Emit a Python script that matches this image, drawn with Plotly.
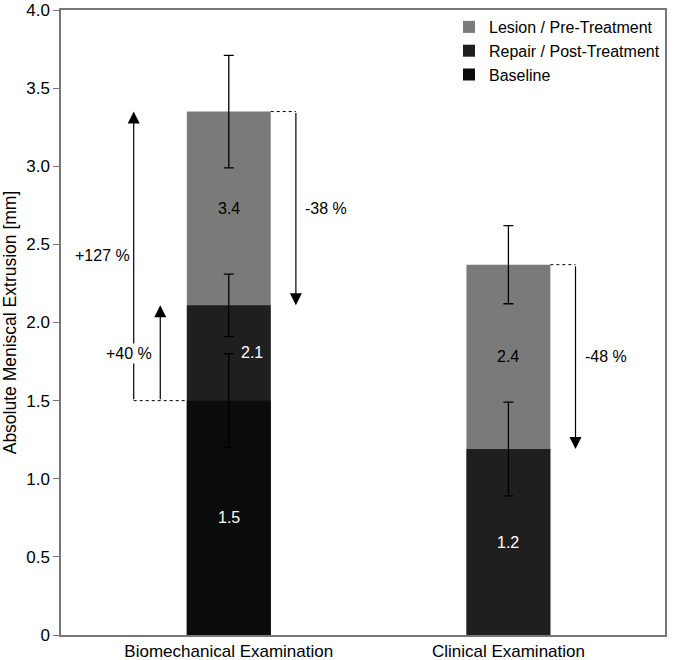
import plotly.graph_objects as go

categories = ["Biomechanical Examination", "Clinical Examination"]
lesion = [3.35, 2.37]
lesion_err = [0.36, 0.25]
repair = [2.11, 1.19]
repair_err = [0.20, 0.30]
baseline = [1.50]
baseline_err = [0.30]
lesion_labels = ["3.4", "2.4"]
repair_labels = ["2.1", "1.2"]
baseline_labels = ["1.5"]
y_ticks = [0, 0.5, 1.0, 1.5, 2.0, 2.5, 3.0, 3.5, 4.0]
y_tick_text = ["0", "0.5", "1.0", "1.5", "2.0", "2.5", "3.0", "3.5", "4.0"]
pct_up = ["+127 %", "+40 %"]
pct_down = ["-38 %", "-48 %"]

xpos = list(range(len(categories)))
W = 0.3
FONT = "Liberation Sans, Arial, sans-serif"
AF = 16
eb = dict(type="data", thickness=1.3, width=5, color="black")

fig = go.Figure()
fig.add_trace(go.Bar(x=xpos, y=lesion, width=W, name="Lesion / Pre-Treatment",
                     marker=dict(color="#7a7a7a", line=dict(width=0)),
                     error_y=dict(array=lesion_err, **eb)))
fig.add_trace(go.Bar(x=xpos, y=repair, width=W, name="Repair / Post-Treatment",
                     marker=dict(color="#1f1f1f", line=dict(width=0)),
                     error_y=dict(array=repair_err, **eb)))
fig.add_trace(go.Bar(x=xpos[:1], y=baseline, width=W, name="Baseline",
                     marker=dict(color="#0b0b0b", line=dict(width=0)),
                     error_y=dict(array=baseline_err, **eb)))

ann = []
for i in range(len(categories)):
    ann.append(dict(x=xpos[i], y=(lesion[i] + repair[i]) / 2, text=lesion_labels[i],
                    showarrow=False, font=dict(color="black", size=AF, family=FONT)))
ann.append(dict(x=xpos[0], y=(repair[0] + baseline[0]) / 2, text=repair_labels[0], xshift=23,
                showarrow=False, font=dict(color="white", size=AF, family=FONT)))
ann.append(dict(x=xpos[1], y=repair[1] / 2, text=repair_labels[1],
                showarrow=False, font=dict(color="white", size=AF, family=FONT)))
ann.append(dict(x=xpos[0], y=baseline[0] / 2, text=baseline_labels[0],
                showarrow=False, font=dict(color="white", size=AF, family=FONT)))

shapes = []
x127 = xpos[0] - 0.34
x40 = xpos[0] - 0.245
shapes.append(dict(type="line", xref="x", yref="y", x0=x127, x1=xpos[0] - W / 2,
                   y0=baseline[0], y1=baseline[0], line=dict(color="black", width=1, dash="dot")))
for xa, top in [(x127, lesion[0]), (x40, repair[0])]:
    ann.append(dict(x=xa, y=top, ax=xa, ay=baseline[0], xref="x", yref="y", axref="x", ayref="y",
                    showarrow=True, arrowhead=2, arrowsize=2, arrowwidth=1.2, arrowcolor="black",
                    text="", standoff=0))
ann.append(dict(x=x127, y=2.43, text=pct_up[0], showarrow=False, xshift=-31,
                font=dict(color="black", size=AF, family=FONT)))
ann.append(dict(x=x127, y=1.8, text=pct_up[1], showarrow=False, xshift=-5, bgcolor="white",
                font=dict(color="black", size=AF, family=FONT)))

for i in range(len(categories)):
    xd = xpos[i] + W / 2 + 0.09
    shapes.append(dict(type="line", xref="x", yref="y", x0=xpos[i] + W / 2, x1=xd,
                       y0=lesion[i], y1=lesion[i], line=dict(color="black", width=1, dash="dot")))
    ann.append(dict(x=xd, y=repair[i], ax=xd, ay=lesion[i], xref="x", yref="y", axref="x", ayref="y",
                    showarrow=True, arrowhead=2, arrowsize=2, arrowwidth=1.2, arrowcolor="black",
                    text="", standoff=0))
    ann.append(dict(x=xd, y=(lesion[i] + repair[i]) / 2, text=pct_down[i], showarrow=False, xshift=30,
                    font=dict(color="black", size=AF, family=FONT)))

fig.update_layout(
    width=675, height=660,
    margin=dict(l=61, r=10, t=10, b=25, autoexpand=False),
    barmode="overlay",
    plot_bgcolor="white", paper_bgcolor="white",
    font=dict(family=FONT, size=17, color="black"),
    showlegend=True,
    legend=dict(x=1, y=1, xanchor="right", yanchor="top", bgcolor="rgba(0,0,0,0)",
                font=dict(size=16, family=FONT), tracegroupgap=0, itemwidth=30),
    xaxis=dict(range=[-0.6, 1.56], tickvals=xpos, ticktext=categories, showgrid=False,
               zeroline=False, showline=True, linecolor="#777777", linewidth=1.5, mirror=True,
               ticks="", tickfont=dict(size=17), automargin=False, ticklabeloverflow="allow"),
    yaxis=dict(range=[0, 4], tickvals=y_ticks, ticktext=y_tick_text, showgrid=False,
               zeroline=False, showline=True, linecolor="#777777", linewidth=1.5, mirror=True,
               ticks="outside", ticklen=6, tickcolor="#777777", tickfont=dict(size=17),
               automargin=False, ticklabeloverflow="allow",
               title=dict(text="Absolute Meniscal Extrusion [mm]", font=dict(size=17.5), standoff=6)),
    annotations=ann, shapes=shapes,
)
fig.write_html("out.html", config={"displayModeBar": False},
               post_script="document.body.style.margin='0';document.body.style.padding='0';")
